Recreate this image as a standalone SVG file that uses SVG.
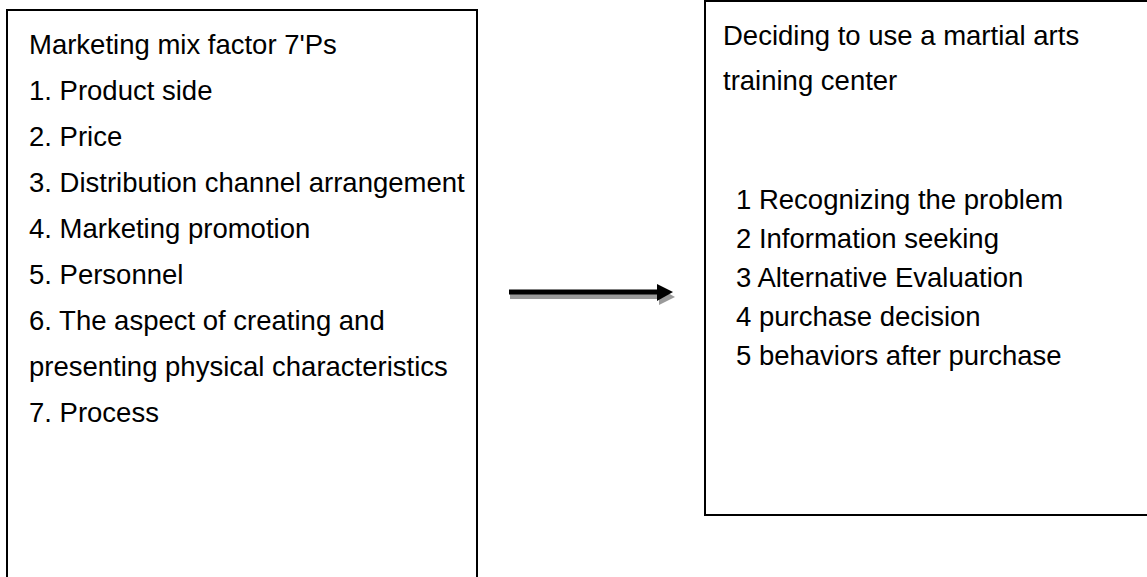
<svg xmlns="http://www.w3.org/2000/svg" width="1147" height="577" viewBox="0 0 1147 577">
<style>
.box{fill:#fff;stroke:#000;stroke-width:2}
.t{font-family:"Liberation Sans",Arial,sans-serif;font-size:27.5px;fill:#000}
</style>
<rect width="1147" height="577" fill="#fff"/>
<g id="node-marketing-mix">
<rect class="box" x="7" y="10" width="470" height="620"/>
<text class="t" x="29" y="54">Marketing mix factor 7'Ps</text>
<text class="t" x="29" y="100">1. Product side</text>
<text class="t" x="29" y="146">2. Price</text>
<text class="t" x="29" y="192">3. Distribution channel arrangement</text>
<text class="t" x="29" y="238">4. Marketing promotion</text>
<text class="t" x="29" y="284">5. Personnel</text>
<text class="t" x="29" y="330">6. The aspect of creating and</text>
<text class="t" x="29" y="376">presenting physical characteristics</text>
<text class="t" x="29" y="422">7. Process</text>
</g>
<g id="node-decision">
<rect class="box" x="705" y="1" width="470" height="514"/>
<text class="t" x="723" y="45">Deciding to use a martial arts</text>
<text class="t" x="723" y="90">training center</text>
<text class="t" x="736" y="209">1 Recognizing the problem</text>
<text class="t" x="736" y="248">2 Information seeking</text>
<text class="t" x="736" y="287">3 Alternative Evaluation</text>
<text class="t" x="736" y="326">4 purchase decision</text>
<text class="t" x="736" y="365">5 behaviors after purchase</text>
</g>
<g id="connectors">
<g fill="#9a9a9a">
<rect x="510" y="294" width="152" height="5"/>
<polygon points="659,288 675,297 659,305"/>
</g>
<g fill="#000">
<rect x="509" y="289.5" width="151" height="5"/>
<polygon points="657,284 673,292 657,301"/>
</g>
</g>
</svg>
